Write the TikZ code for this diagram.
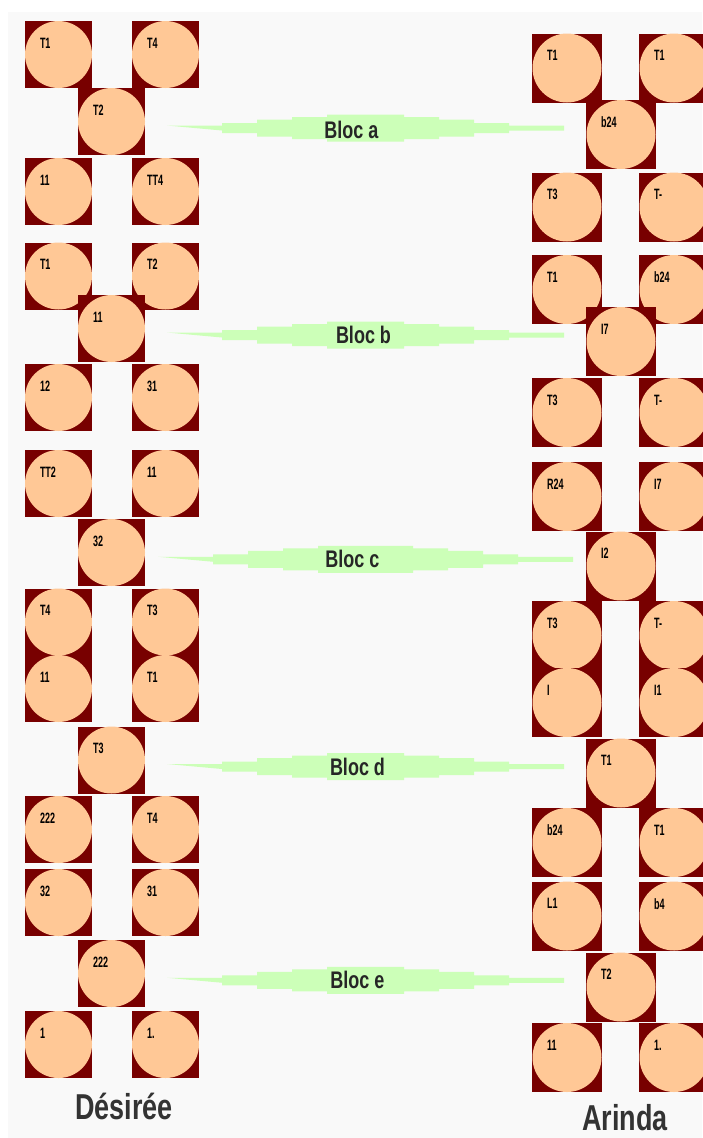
\documentclass[tikz,border=0pt]{standalone}
\usepackage{fontspec}
\setmainfont{Liberation Sans}
\newfontfamily\condfont[FakeStretch=0.75]{Liberation Sans}
\newfontfamily\tinyfont[FakeStretch=0.6]{Liberation Sans}
\usetikzlibrary{calc}
\definecolor{tilered}{HTML}{780000}
\definecolor{peach}{HTML}{FFC896}
\definecolor{bandgreen}{HTML}{CCFFB8}
\definecolor{bggray}{HTML}{F9F9F9}
\newcommand\bandshape[1]{%
  \fill[bandgreen] (-#1,-2.5) -- (-#1+55,-2.5) -- (-#1+55,-5) -- (-#1+90,-5) -- (-#1+90,-8.5) -- (-#1+125,-8.5) -- (-#1+125,-11) -- (-#1+160,-11) -- (-#1+160,-13.5)
   -- (#1-160,-13.5) -- (#1-160,-11) -- (#1-125,-11) -- (#1-125,-8.5) -- (#1-90,-8.5) -- (#1-90,-5) -- (#1-55,-5) -- (#1-55,-2.5) -- (#1,-2.5)
   -- (#1,2.5) -- (#1-55,2.5) -- (#1-55,5) -- (#1-90,5) -- (#1-90,8.5) -- (#1-125,8.5) -- (#1-125,11) -- (#1-160,11) -- (#1-160,13.5)
   -- (-#1+160,13.5) -- (-#1+160,11) -- (-#1+125,11) -- (-#1+125,8.5) -- (-#1+90,8.5) -- (-#1+90,5) -- (-#1+55,5) -- (-#1+55,2.5) -- cycle;}
\begin{document}
\begin{tikzpicture}[x=1pt,y=-1pt,
  tilelabel/.style={anchor=north west, inner sep=0pt, xshift=15pt, yshift=-17pt,
    font=\tinyfont\bfseries\fontsize{15}{15}\selectfont, text=black},
  tilebase/.style={rectangle, fill=tilered, inner sep=0pt,
    label={[tilelabel]north west:#1}},
  tileL/.style={tilebase=#1, minimum width=67pt, minimum height=67pt,
    path picture={\fill[peach] (path picture bounding box.center) circle (33.5pt);}},
  tileR/.style={tilebase=#1, minimum width=70pt, minimum height=69pt,
    path picture={\fill[peach] (path picture bounding box.center) circle (34.5pt);}},
  bloctext/.style={font=\condfont\bfseries\fontsize{24}{24}\selectfont, text=black!85, inner sep=0pt},
  nametext/.style={font=\condfont\bfseries\fontsize{36}{36}\selectfont, text=black!80, inner sep=0pt}
]
\useasboundingbox (0,0) rectangle (702,1138);
\fill[white] (0,0) rectangle (702,1138);
\fill[bggray] (8,12) rectangle (702,1138);

% ---------- left column (Desiree) ----------
\node[tileL=T1]  (la1) at (58.5,54.5) {};
\node[tileL=T4]  (la2) at (165.5,54.5) {};
\node[tileL=T2]  (lam) at (111.5,121.5) {};
\node[tileL=11]  (la3) at (58.5,191.5) {};
\node[tileL=TT4] (la4) at (165.5,191.5) {};

\node[tileL=T1]  (lb1) at (58.5,276) {};
\node[tileL=T2]  (lb2) at (165.5,276) {};
\node[tileL=11]  (lbm) at (111.5,328.5) {};
\node[tileL=12]  (lb3) at (58.5,397.5) {};
\node[tileL=31]  (lb4) at (165.5,397.5) {};

\node[tileL=TT2] (lc1) at (58.5,483.5) {};
\node[tileL=11]  (lc2) at (165.5,483.5) {};
\node[tileL=32]  (lcm) at (111.5,552.5) {};
\node[tileL=T4]  (lc3) at (58.5,622) {};
\node[tileL=T3]  (lc4) at (165.5,622) {};

\node[tileL=11]  (ld1) at (58.5,688.5) {};
\node[tileL=T1]  (ld2) at (165.5,688.5) {};
\node[tileL=T3]  (ldm) at (111.5,760) {};
\node[tileL=222] (ld3) at (58.5,829.5) {};
\node[tileL=T4]  (ld4) at (165.5,829.5) {};

\node[tileL=32]  (le1) at (58.5,902.5) {};
\node[tileL=31]  (le2) at (165.5,902.5) {};
\node[tileL=222] (lem) at (111.5,973.5) {};
\node[tileL=1]   (le3) at (58.5,1044.5) {};
\node[tileL=1.]  (le4) at (165.5,1044.5) {};

% ---------- right column (Arinda) ----------
\node[tileR=T1]  (ra1) at (567,68) {};
\node[tileR=T1]  (ra2) at (674,68) {};
\node[tileR=b24] (ram) at (621,134.5) {};
\node[tileR=T3]  (ra3) at (567,207) {};
\node[tileR=T-]  (ra4) at (674,207) {};

\node[tileR=T1]  (rb1) at (567,289.5) {};
\node[tileR=b24] (rb2) at (674,289.5) {};
\node[tileR=I7]  (rbm) at (621,341.5) {};
\node[tileR=T3]  (rb3) at (567,412.5) {};
\node[tileR=T-]  (rb4) at (674,412.5) {};

\node[tileR=R24] (rc1) at (567,496.5) {};
\node[tileR=I7]  (rc2) at (674,496.5) {};
\node[tileR=I2]  (rcm) at (621,566) {};
\node[tileR=T3]  (rc3) at (567,635.5) {};
\node[tileR=T-]  (rc4) at (674,635.5) {};

\node[tileR=I]   (rd1) at (567,702.5) {};
\node[tileR=I1]  (rd2) at (674,702.5) {};
\node[tileR=T1]  (rdm) at (621,773) {};
\node[tileR=b24] (rd3) at (567,842.5) {};
\node[tileR=T1]  (rd4) at (674,842.5) {};

\node[tileR=L1]  (re1) at (567,916) {};
\node[tileR=b4]  (re2) at (674,916) {};
\node[tileR=T2]  (rem) at (621,987) {};
\node[tileR=11]  (re3) at (567,1057.5) {};
\node[tileR=1.]  (re4) at (674,1057.5) {};

% ---------- bands ----------
\coordinate (bca) at ($(lam.east)!0.5!(ram.west)$);
\coordinate (bcb) at ($(lbm.east)!0.5!(rbm.west)$);
\coordinate (bcc) at ($(lcm.east)!0.5!(rcm.west)$);
\coordinate (bcd) at ($(ldm.east)!0.5!(rdm.west)$);
\coordinate (bce) at ($(lem.east)!0.5!(rem.west)$);
\begin{scope}[shift={(bca)}]\bandshape{198.5}\end{scope}
\begin{scope}[shift={(bcb)}]\bandshape{198.5}\end{scope}
\begin{scope}[shift={(bcc)}]\bandshape{207.5}\end{scope}
\begin{scope}[shift={(bcd)}]\bandshape{198.5}\end{scope}
\begin{scope}[shift={(bce)}]\bandshape{198.5}\end{scope}
\node[bloctext] (ta) at ($(bca)+(-14,2)$) {Bloc a};
\node[bloctext] (tb) at ($(bcb)+(-2,0)$) {Bloc b};
\node[bloctext] (tc) at ($(bcc)+(-13,0)$) {Bloc c};
\node[bloctext] (td) at ($(bcd)+(-8,0)$) {Bloc d};
\node[bloctext] (te) at ($(bce)+(-8,0)$) {Bloc e};

% ---------- names ----------
\node[nametext] (nd) at (124,1106) {Désirée};
\node[nametext] (na) at (625,1118) {Arinda};
\end{tikzpicture}
\end{document}
